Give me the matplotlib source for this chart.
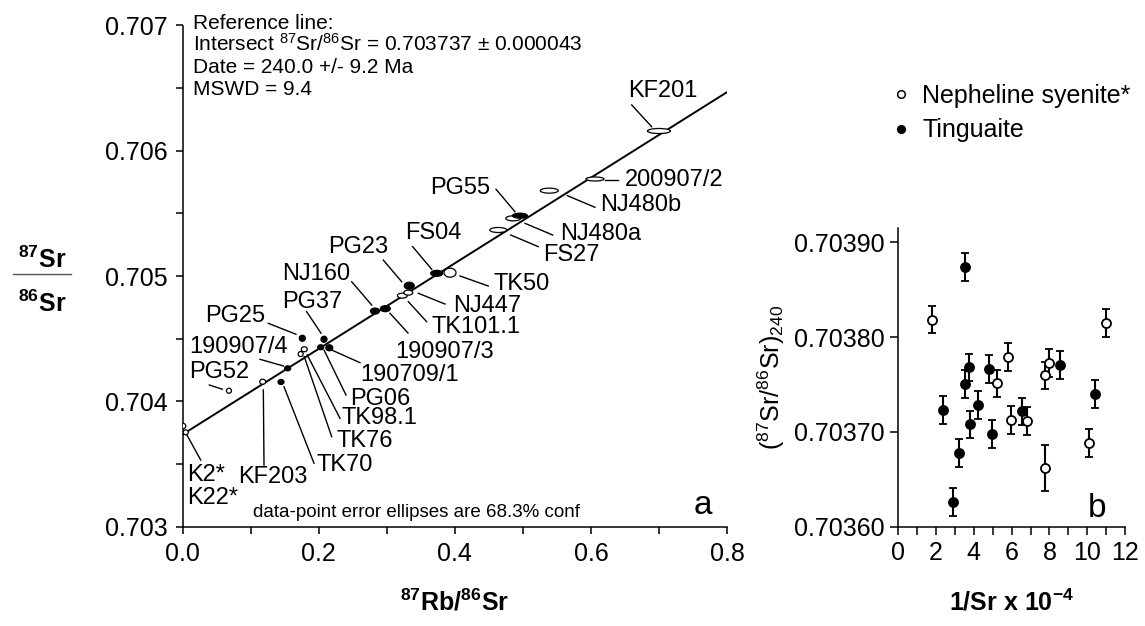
"""Rb-Sr reference isochron (a) and initial 87Sr/86Sr vs 1/Sr (b)."""
import matplotlib
matplotlib.use("Agg")
import matplotlib.pyplot as plt
from matplotlib.patches import Ellipse
from matplotlib.lines import Line2D
from matplotlib.ticker import MultipleLocator, FormatStrFormatter
import numpy as np

plt.rcParams["font.family"] = ["Liberation Sans", "DejaVu Sans"]
plt.rcParams["mathtext.fontset"] = "custom"
plt.rcParams["mathtext.rm"] = "Liberation Sans"
plt.rcParams["mathtext.it"] = "Liberation Sans:italic"
plt.rcParams["mathtext.bf"] = "Liberation Sans:bold"

# ---- panel a: isochron data (87Rb/86Sr, 87Sr/86Sr, error half-widths) ----
samples = ["K2*", "K22*", "PG52", "KF203", "190907/4", "TK70", "PG25", "TK76",
           "TK98.1", "PG37", "PG06", "190709/1", "NJ160", "190907/3", "TK101.1",
           "NJ447", "PG23", "FS04", "TK50", "FS27", "NJ480a", "PG55", "NJ480b",
           "200907/2", "KF201"]
rb_sr = [0.0009, 0.0044, 0.0680, 0.1176, 0.1543, 0.1445, 0.1758, 0.1734,
         0.1787, 0.2077, 0.2028, 0.2155, 0.2826, 0.2978, 0.3228,
         0.3316, 0.3330, 0.3733, 0.3929, 0.4638, 0.4859, 0.4957, 0.5388,
         0.6060, 0.7000]
sr_sr = [0.703804, 0.703753, 0.704085, 0.704157, 0.704264, 0.704155, 0.704504, 0.704378,
         0.704416, 0.704496, 0.704432, 0.704428, 0.704721, 0.704740, 0.704844,
         0.704868, 0.704923, 0.705022, 0.705027, 0.705368, 0.705461, 0.705482, 0.705682,
         0.705775, 0.706158]
err_x = [0.0037, 0.0037, 0.0037, 0.0044, 0.0044, 0.0044, 0.0044, 0.0037,
         0.0044, 0.0044, 0.0044, 0.0051, 0.0066, 0.0073, 0.0073,
         0.0066, 0.0073, 0.0088, 0.0088, 0.0125, 0.0110, 0.0110, 0.0132,
         0.0132, 0.0169]
err_y = [0.000020, 0.000020, 0.000020, 0.000020, 0.000020, 0.000020, 0.000024, 0.000020,
         0.000020, 0.000024, 0.000020, 0.000024, 0.000024, 0.000024, 0.000020,
         0.000020, 0.000028, 0.000024, 0.000036, 0.000020, 0.000020, 0.000020, 0.000020,
         0.000016, 0.000020]
tinguaite = [False, False, False, False, True, True, True, False,
             False, True, True, True, True, True, False,
             False, True, True, False, False, False, True, False,
             False, False]

intercept = 0.703737
age_ma = 240.0
lambda_rb = 1.42e-11

# label layout: text anchor (left, centre) and leader segment, data coords
label_layout = {
    "KF201":    (0.6549, 0.706480, (0.6599, 0.706366, 0.6893, 0.706192)),
    "200907/2": (0.6501, 0.705767, (0.6207, 0.705767, 0.6402, 0.705767)),
    "NJ480b":   (0.6133, 0.705567, (0.5653, 0.705642, 0.6060, 0.705549)),
    "PG55":     (0.3635, 0.705701, (0.4605, 0.705693, 0.4884, 0.705514)),
    "NJ480a":   (0.5545, 0.705336, (0.5031, 0.705421, 0.5438, 0.705328)),
    "FS27":     (0.5300, 0.705168, (0.4821, 0.705328, 0.5226, 0.705235)),
    "FS04":     (0.3267, 0.705342, (0.3380, 0.705235, 0.3660, 0.705054)),
    "TK50":     (0.4565, 0.704937, (0.4076, 0.705001, 0.4491, 0.704921)),
    "PG23":     (0.2140, 0.705235, (0.2948, 0.705128, 0.3219, 0.704955)),
    "NJ447":    (0.3977, 0.704764, (0.3463, 0.704863, 0.3855, 0.704777)),
    "NJ160":    (0.1455, 0.705017, (0.2484, 0.704955, 0.2778, 0.704769)),
    "TK101.1":  (0.3660, 0.704594, (0.3316, 0.704796, 0.3586, 0.704636)),
    "PG37":     (0.1455, 0.704793, (0.1822, 0.704716, 0.2033, 0.704544)),
    "190907/3": (0.3120, 0.704394, (0.3047, 0.704703, 0.3311, 0.704546)),
    "PG25":     (0.0328, 0.704684, (0.1258, 0.704623, 0.1665, 0.704536)),
    "190709/1": (0.2606, 0.704211, (0.2190, 0.704410, 0.2606, 0.704309)),
    "190907/4": (0.0097, 0.704432, (0.1136, 0.704336, 0.1479, 0.704283)),
    "PG52":     (0.0097, 0.704232, (0.0391, 0.704131, 0.0582, 0.704097)),
    "PG06":     (0.2459, 0.704019, (0.2077, 0.704410, 0.2400, 0.704051)),
    "TK98.1":   (0.2337, 0.703865, (0.1831, 0.704370, 0.2312, 0.703865)),
    "TK76":     (0.2263, 0.703686, (0.1787, 0.704357, 0.2190, 0.703718)),
    "TK70":     (0.1969, 0.703492, (0.1489, 0.704117, 0.1930, 0.703506)),
    "KF203":    (0.0817, 0.703394, (0.1185, 0.704091, 0.1195, 0.703492)),
    "K2*":      (0.0059, 0.703413, (0.0049, 0.703745, 0.0265, 0.703532)),
    "K22*":     (0.0059, 0.703227, None),
}

# ---- panel b: initial ratios at 240 Ma vs 1/Sr ----
neph_inv_sr = [1.76, 5.82, 5.24, 5.98, 6.83, 7.76, 7.99, 7.76, 10.11, 11.02]
neph_sr0 = [0.7038185, 0.7037792, 0.7037511, 0.7037124, 0.7037117,
            0.7037595, 0.7037725, 0.7036619, 0.7036882, 0.7038146]
neph_err = [1.46e-5, 1.46e-5, 1.46e-5, 1.46e-5, 1.46e-5,
            1.46e-5, 1.46e-5, 2.46e-5, 1.46e-5, 1.46e-5]
ting_inv_sr = [3.53, 2.38, 3.51, 3.72, 4.23, 3.79, 3.21, 2.87, 4.78, 4.97, 6.56, 8.55, 10.41]
ting_sr0 = [0.7038740, 0.7037233, 0.7037504, 0.7037679, 0.7037286, 0.7037079, 0.7036780,
            0.7036264, 0.7037662, 0.7036977, 0.7037216, 0.7037707, 0.7037402]
ting_err = [1.46e-5] * 13


W, H = 1145, 626
fig = plt.figure(figsize=(W / 100, H / 100), dpi=100)

# ---------------- panel a ----------------
ax = fig.add_axes([182.7 / W, 1 - 526.7 / H, 544.3 / W, 501.2 / H])
slope = np.exp(lambda_rb * age_ma * 1e6) - 1
xl = np.array([0.0, 0.8])
ax.plot(xl, intercept + slope * xl, color="black", lw=1.4, zorder=2)

for x, y, ex, ey, filled in zip(rb_sr, sr_sr, err_x, err_y, tinguaite):
    ax.add_patch(Ellipse((x, y), 2 * ex, 2 * ey, facecolor="black" if filled else "white",
                         edgecolor="black", lw=0.9, zorder=3))

for name, (tx, ty, lead) in label_layout.items():
    ax.text(tx, ty, name, fontsize=17, ha="left", va="center", zorder=4)
    if lead is not None:
        ax.plot([lead[0], lead[2]], [lead[1], lead[3]], color="black", lw=1.0, zorder=2)

ax.set_xlim(0, 0.8)
ax.set_ylim(0.703, 0.707)
ax.xaxis.set_major_locator(MultipleLocator(0.2))
ax.xaxis.set_minor_locator(MultipleLocator(0.1))
ax.yaxis.set_major_locator(MultipleLocator(0.001))
ax.yaxis.set_minor_locator(MultipleLocator(0.0005))
ax.xaxis.set_major_formatter(FormatStrFormatter("%.1f"))
ax.yaxis.set_major_formatter(FormatStrFormatter("%.3f"))
ax.spines["top"].set_visible(False)
ax.spines["right"].set_visible(False)
ax.tick_params(which="both", direction="out", length=5, width=1.1, labelsize=18, pad=6)
for s in ax.spines.values():
    s.set_linewidth(1.1)

ax.set_xlabel(r"$\mathbf{^{87}Rb/^{86}Sr}$", fontsize=18)
ax.xaxis.set_label_coords(0.5, -0.125)
ax.text(0.955, 0.025, "a", transform=ax.transAxes, fontsize=24, ha="center", va="baseline")
ax.text(0.13, 0.012, "data-point error ellipses are 68.3% conf", transform=ax.transAxes,
        fontsize=13.5, ha="left", va="bottom")

info_lines = ["Reference line:",
              r"Intersect $^{87}$Sr/$^{86}$Sr = 0.703737 ± 0.000043",
              "Date = 240.0 +/- 9.2 Ma",
              "MSWD = 9.4"]
for i, line in enumerate(info_lines):
    fig.text(193 / W, 1 - (29 + 22 * i) / H, line, fontsize=15, ha="left", va="baseline")

# stacked y label 87Sr / 86Sr
fig.text(42 / W, 1 - 268.3 / H, r"$\mathbf{^{87}Sr}$", fontsize=18, ha="center", va="baseline")
fig.text(42 / W, 1 - 311.7 / H, r"$\mathbf{^{86}Sr}$", fontsize=18, ha="center", va="baseline")
fig.add_artist(Line2D([12.7 / W, 71 / W], [1 - 274 / H, 1 - 274 / H],
                      color="#555555", lw=1.0, transform=fig.transFigure))

# ---------------- panel b ----------------
bx = fig.add_axes([898.3 / W, 1 - 526.7 / H, 226.7 / W, 298.7 / H])
ebkw = dict(fmt="o", ms=6.5, mew=1.3, mec="black", ecolor="black", elinewidth=1.5,
            capsize=3.2, capthick=1.5, zorder=3)
bx.errorbar(neph_inv_sr, neph_sr0, yerr=neph_err, mfc="white", **ebkw)
bx.errorbar(ting_inv_sr, ting_sr0, yerr=ting_err, mfc="black", **ebkw)

bx.set_xlim(0, 12)
bx.set_ylim(0.7036, 0.703915)
bx.xaxis.set_major_locator(MultipleLocator(2))
bx.xaxis.set_minor_locator(MultipleLocator(1))
bx.yaxis.set_major_locator(MultipleLocator(0.0001))
bx.yaxis.set_major_formatter(FormatStrFormatter("%.5f"))
bx.spines["top"].set_visible(False)
bx.spines["right"].set_visible(False)
for s in bx.spines.values():
    s.set_linewidth(1.1)
bx.tick_params(which="both", direction="out", length=6, width=1.1, labelsize=18, pad=4)
bx.set_xlabel(r"$\mathbf{1/Sr\ x\ 10^{-4}}$", fontsize=18)
bx.xaxis.set_label_coords(0.5, -0.21)
bx.set_ylabel(r"$(^{87}\mathrm{Sr}/^{86}\mathrm{Sr})_{240}$", fontsize=18)
bx.yaxis.set_label_coords(-0.49, 0.5)
bx.text(0.875, 0.031, "b", transform=bx.transAxes, fontsize=24, ha="center", va="baseline")

handles = [Line2D([], [], ls="none", marker="o", ms=5.5, mfc="white", mec="black", mew=1.1),
           Line2D([], [], ls="none", marker="o", ms=5.5, mfc="black", mec="black", mew=1.1)]
fig.legend(handles, ["Nepheline syenite*", "Tinguaite"], loc="upper left",
           bbox_to_anchor=(891 / W, 1 - 84 / H), frameon=False, fontsize=18,
           handlelength=0.8, handletextpad=0.45, labelspacing=0.42,
           borderpad=0, borderaxespad=0)

fig.savefig("out.png", dpi=100)
